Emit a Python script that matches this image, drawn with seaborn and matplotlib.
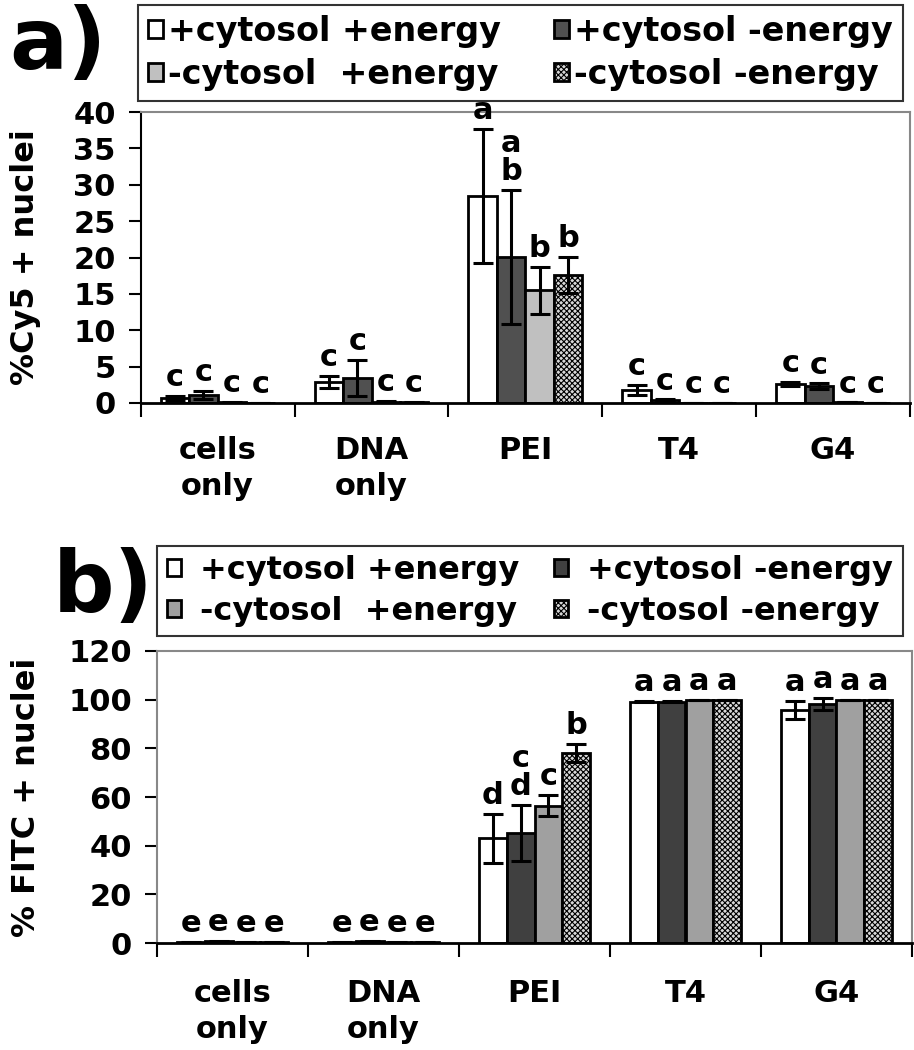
import matplotlib
matplotlib.use('Agg')
import matplotlib.pyplot as plt
import numpy as np
import pandas as pd
import seaborn as sns

# Categories and conditions
groups = ['cells\nonly', 'DNA\nonly', 'PEI', 'T4', 'G4']
conditions = ['+cytosol +energy', '+cytosol -energy', '-cytosol  +energy', '-cytosol -energy']

# Panel a: %Cy5 + nuclei (one list per condition, in group order)
cy5_pos_pos = [0.7, 2.9, 28.5, 1.8, 2.6]
cy5_pos_neg = [1.1, 3.4, 20.1, 0.4, 2.3]
cy5_neg_pos = [0.1, 0.2, 15.5, 0.05, 0.1]
cy5_neg_neg = [0.0, 0.1, 17.6, 0.0, 0.0]
cy5_err_pos_pos = [0.3, 0.8, 9.2, 0.7, 0.3]
cy5_err_pos_neg = [0.6, 2.5, 9.2, 0.1, 0.4]
cy5_err_neg_pos = [0.05, 0.1, 3.2, 0.0, 0.0]
cy5_err_neg_neg = [0.0, 0.05, 2.5, 0.0, 0.0]
cy5_letters = [['c', 'c', 'a', 'c', 'c'],
               ['c', 'c', 'a\nb', 'c', 'c'],
               ['c', 'c', 'b', 'c', 'c'],
               ['c', 'c', 'b', 'c', 'c']]

# Panel b: % FITC + nuclei
fitc_pos_pos = [0.3, 0.3, 43.0, 99.2, 95.8]
fitc_pos_neg = [0.8, 0.8, 45.3, 99.2, 98.2]
fitc_neg_pos = [0.3, 0.3, 56.5, 99.9, 100.0]
fitc_neg_neg = [0.3, 0.3, 78.2, 100.0, 100.0]
fitc_err_pos_pos = [0.1, 0.1, 10.0, 0.3, 3.6]
fitc_err_pos_neg = [0.2, 0.2, 11.5, 0.3, 2.4]
fitc_err_neg_pos = [0.1, 0.1, 4.3, 0.0, 0.0]
fitc_err_neg_neg = [0.1, 0.1, 3.7, 0.0, 0.0]
fitc_letters = [['e', 'e', 'd', 'a', 'a'],
                ['e', 'e', 'c\nd', 'a', 'a'],
                ['e', 'e', 'c', 'a', 'a'],
                ['e', 'e', 'b', 'a', 'a']]

sns.set_style('white')
plt.rcParams['font.family'] = ['DejaVu Sans']
plt.rcParams['font.weight'] = 'bold'
plt.rcParams['hatch.linewidth'] = 0.8
for key in ['text.color', 'axes.labelcolor', 'xtick.color', 'ytick.color']:
    plt.rcParams[key] = 'black'


def make_df(means, errs):
    rows = []
    for cond, m, e in zip(conditions, means, errs):
        for g, v, s in zip(groups, m, e):
            rows.append({'group': g, 'condition': cond, 'value': v, 'err': s})
    return pd.DataFrame(rows)


def draw_panel(ax, df, letters, colors, ymax, ystep, ylabel, spine_color, letter_pad):
    sns.barplot(data=df, x='group', y='value', hue='condition', order=groups,
                hue_order=conditions, palette=colors, width=0.74,
                edgecolor='black', linewidth=2, errorbar=None, legend=False, ax=ax)
    bar_conts = list(ax.containers)
    for i, cont in enumerate(bar_conts):
        sub = df[df['condition'] == conditions[i]]
        if i == 3:
            for p in cont:
                p.set_hatch('xxxxxx')
        xs = [p.get_x() + p.get_width() / 2 for p in cont]
        ax.errorbar(xs, sub['value'], yerr=sub['err'], fmt='none', ecolor='black',
                    elinewidth=2.2, capsize=7, capthick=2.2, zorder=5)
        for x, v, e, lab in zip(xs, sub['value'], sub['err'], letters[i]):
            ax.annotate(lab, (x, v + e), xytext=(0, letter_pad), textcoords='offset points',
                        ha='center', va='baseline', fontsize=22, fontweight='bold',
                        color='black', linespacing=0.95, zorder=6)
    ax.set_xlim(-0.5, 4.5)
    ax.set_ylim(0, ymax)
    ax.set_yticks(np.arange(0, ymax + 1, ystep))
    ax.set_xticks(np.arange(-0.5, 5, 1))
    ax.set_xticklabels([])
    ax.set_xticks(np.arange(5), minor=True)
    ax.set_xticklabels(groups, minor=True, linespacing=1.3)
    ax.tick_params(axis='x', which='major', length=10, width=1.5, color='black', direction='out', bottom=True)
    ax.tick_params(axis='x', which='minor', length=0, labelsize=22, labelcolor='black', bottom=True)
    ax.tick_params(axis='y', length=9, width=1.5, color='black', direction='out', left=True,
                   labelsize=22, labelcolor='black', pad=9)
    ax.set_xlabel('')
    ax.set_ylabel(ylabel, fontsize=23, fontweight='bold', color='black')
    for side in ['top', 'right']:
        ax.spines[side].set_color('#888888')
        ax.spines[side].set_linewidth(1.5)
    ax.spines['left'].set_color(spine_color)
    ax.spines['left'].set_linewidth(1.5)
    ax.spines['bottom'].set_color('black')
    ax.spines['bottom'].set_linewidth(2)
    for lab in ax.get_xticklabels(minor=True) + ax.get_yticklabels():
        lab.set_fontweight('bold')


def add_legend(ax, fig, colors, box, fontsize, textpad):
    handles = []
    for i, c in enumerate(colors):
        h = plt.Rectangle((0, 0), 1, 1, facecolor=c, edgecolor='black', linewidth=2,
                          hatch='xxxxxx' if i == 3 else None)
        handles.append(h)
    order = [0, 2, 1, 3]
    leg = ax.legend([handles[k] for k in order], [conditions[k] for k in order],
                    ncol=2, loc='center', bbox_to_anchor=box, bbox_transform=fig.transFigure,
                    mode='expand', frameon=True, fancybox=False,
                    handlelength=0.45, handleheight=0.45, handletextpad=textpad,
                    borderpad=0.3, labelspacing=0.3, columnspacing=0.8, borderaxespad=0,
                    labelcolor='black', prop={'weight': 'bold', 'size': fontsize})
    leg.get_frame().set_edgecolor('black')
    leg.get_frame().set_linewidth(1.5)
    return leg


fig = plt.figure(figsize=(9.14, 10.5), dpi=100)
ax1 = fig.add_axes([0.154, 0.6162, 0.8416, 0.2771])
ax2 = fig.add_axes([0.1718, 0.1019, 0.826, 0.2781])

colors_a = ['white', '#505050', '#c0c0c0', '#d8d8d8']
colors_b = ['white', '#404040', '#a0a0a0', '#d8d8d8']

df_a = make_df([cy5_pos_pos, cy5_pos_neg, cy5_neg_pos, cy5_neg_neg],
               [cy5_err_pos_pos, cy5_err_pos_neg, cy5_err_neg_pos, cy5_err_neg_neg])
df_b = make_df([fitc_pos_pos, fitc_pos_neg, fitc_neg_pos, fitc_neg_neg],
               [fitc_err_pos_pos, fitc_err_pos_neg, fitc_err_neg_pos, fitc_err_neg_neg])

draw_panel(ax1, df_a, cy5_letters, colors_a, 40, 5, '%Cy5 + nuclei', 'black', 7)
draw_panel(ax2, df_b, fitc_letters, colors_b, 120, 20, '% FITC + nuclei', '#888888', 7)
ax1.tick_params(axis='x', which='minor', pad=24)
ax2.tick_params(axis='x', which='minor', pad=26)
ax1.yaxis.set_label_coords(-0.13, 0.5)
ax2.yaxis.set_label_coords(-0.152, 0.5)

add_legend(ax1, fig, colors_a, (0.151, 0.9067, 0.837, 0.0857), 24, 0.15)
add_legend(ax2, fig, colors_b, (0.1718, 0.3895, 0.816, 0.0952), 23, 0.6)

fig.text(0.01, 0.996, 'a)', fontsize=62, fontweight='bold', va='top', ha='left')
fig.text(0.058, 0.479, 'b)', fontsize=62, fontweight='bold', va='top', ha='left')

fig.savefig('out.png', dpi=100)
